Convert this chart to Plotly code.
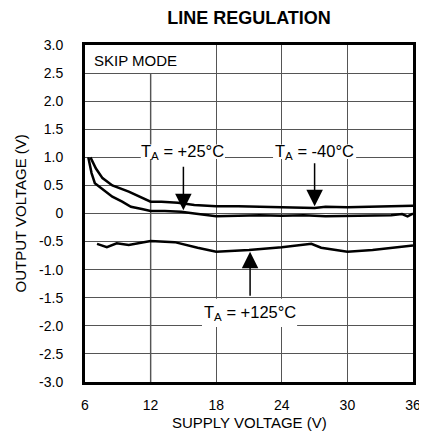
import plotly.graph_objects as go

# ---- data ----
vin_m40 = [6.5, 7.0, 7.6, 8.5, 10, 12, 13, 14.5, 16, 18, 20, 22, 24, 26, 27, 28, 30, 32, 34, 36]
vout_m40 = [1.0, 0.8, 0.63, 0.5, 0.39, 0.21, 0.21, 0.19, 0.15, 0.13, 0.13, 0.12, 0.12, 0.11, 0.1, 0.12, 0.11, 0.12, 0.13, 0.14]

vin_p25 = [6.3, 6.6, 6.9, 7.5, 8.5, 9.4, 10.2, 11.2, 12, 13.3, 14.8, 16, 17, 18, 20, 22, 24, 26, 28, 30, 32, 34, 35, 35.5, 36]
vout_p25 = [1.0, 0.72, 0.54, 0.45, 0.3, 0.21, 0.12, 0.08, 0.045, 0.045, 0.03, 0.0, -0.02, -0.05, -0.04, -0.03, -0.04, -0.03, -0.05, -0.04, -0.04, -0.03, -0.01, -0.05, 0.0]

vin_p125 = [7.1, 8, 8.9, 10, 12, 14.2, 16.3, 18, 21, 24, 26.7, 27.6, 30, 32.3, 36]
vout_p125 = [-0.54, -0.6, -0.53, -0.56, -0.49, -0.51, -0.61, -0.68, -0.65, -0.6, -0.54, -0.61, -0.68, -0.65, -0.57]

x_ticks = [6, 12, 18, 24, 30, 36]
x_ticktext = ["6", "12", "18", "24", "30", "36"]
y_ticks = [3.0, 2.5, 2.0, 1.5, 1.0, 0.5, 0.0, -0.5, -1.0, -1.5, -2.0, -2.5, -3.0]
y_ticktext = ["3.0", "2.5", "2.0", "1.5", "1.0", "0.5", "0", "-0.5", "-1.0", "-1.5", "-2.0", "-2.5", "-3.0"]

FONT = "Liberation Sans, Arial, sans-serif"
LINE = dict(color="black", width=2.5)

fig = go.Figure()
for xs, ys, name in [(vin_m40, vout_m40, "TA = -40°C"),
                     (vin_p25, vout_p25, "TA = +25°C"),
                     (vin_p125, vout_p125, "TA = +125°C")]:
    fig.add_trace(go.Scatter(x=xs, y=ys, mode="lines", line=LINE, name=name,
                             showlegend=False, hoverinfo="skip"))

# white label backgrounds (between grid and traces)
def white_box(x0, x1, y0, y1):
    fig.add_shape(type="rect", x0=x0, x1=x1, y0=y0, y1=y1, xref="x", yref="y",
                  fillcolor="white", line=dict(width=0), layer="between")

white_box(6, 14.5, 2.5, 3.0)
# the 12 V gridline is drawn darker in the reference
fig.add_shape(type="line", x0=12, x1=12, y0=0, y1=1, xref="x", yref="paper",
              line=dict(color="black", width=1.3), layer="between")
white_box(11.1, 18.8, 0.97, 1.23)
white_box(23.2, 30.8, 0.97, 1.23)
white_box(16.7, 25.4, -2.02, -1.52)

lab_font = dict(family=FONT, size=16.5, color="black")
fig.add_annotation(x=10.6, y=2.72, text="SKIP MODE", showarrow=False,
                   font=dict(family=FONT, size=15, color="black"))
fig.add_annotation(x=14.95, y=1.09, text="T<sub>A</sub> = +25°C", showarrow=False, font=lab_font)
fig.add_annotation(x=27.0, y=1.09, text="T<sub>A</sub> = -40°C", showarrow=False, font=lab_font)
fig.add_annotation(x=21.1, y=-1.77, text="T<sub>A</sub> = +125°C", showarrow=False, font=lab_font)

# arrows
for xh, yh, yt in [(15.0, 0.06, 0.86), (27.0, 0.13, 0.92), (21.1, -0.68, -1.49)]:
    fig.add_annotation(x=xh, y=yh, ax=xh, ay=yt, axref="x", ayref="y", xref="x", yref="y",
                       text="", showarrow=True, arrowhead=2, arrowsize=2.2, arrowwidth=1.5,
                       arrowcolor="black", standoff=0, startstandoff=0)

# axis titles
fig.add_annotation(x=0, y=0.5, xref="paper", yref="paper", xshift=-65, textangle=-90,
                   xanchor="center", yanchor="middle",
                   text="OUTPUT VOLTAGE (V)", showarrow=False,
                   font=dict(family=FONT, size=15, color="black"))
fig.add_annotation(x=0.5, y=0, xref="paper", yref="paper", yshift=-40,
                   xanchor="center", yanchor="middle",
                   text="SUPPLY VOLTAGE (V)", showarrow=False,
                   font=dict(family=FONT, size=15, color="black"))

axis_common = dict(showline=True, linecolor="black", linewidth=3, mirror=True,
                   showgrid=True, gridcolor="#555555", gridwidth=1, zeroline=False,
                   ticks="", tickfont=dict(family=FONT, size=14, color="black"))

fig.update_xaxes(range=[6, 36], tickvals=x_ticks, ticktext=x_ticktext,
                 ticklabelstandoff=8, **axis_common)
fig.update_yaxes(range=[-3, 3], tickvals=y_ticks, ticktext=y_ticktext,
                 ticklabelstandoff=16, **axis_common)

# page body has an 8px margin: figure is placed at (8, 8)
W, H = 419, 434
fig.update_layout(
    width=W, height=H,
    margin=dict(l=77, r=6, t=37, b=60),
    paper_bgcolor="white", plot_bgcolor="white",
    title=dict(text="<b>LINE REGULATION</b>", x=0.5, xref="paper", xanchor="center",
               y=1 - 10 / H, yanchor="middle",
               font=dict(family=FONT, size=18, color="black")),
)

fig.write_html("out.html")
